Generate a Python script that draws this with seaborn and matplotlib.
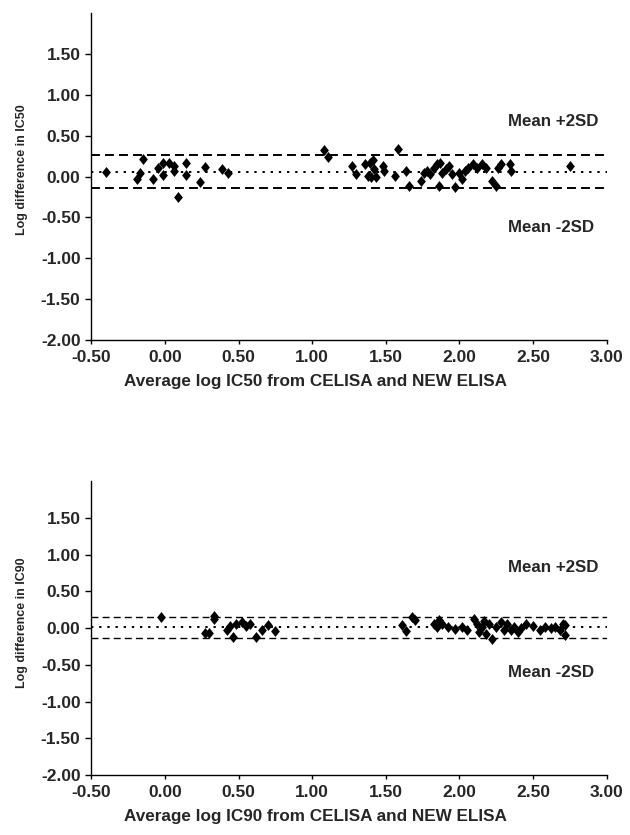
import matplotlib
matplotlib.use("Agg")
import matplotlib.pyplot as plt
from matplotlib.path import Path
import seaborn as sns
import pandas as pd

# Bland-Altman data: average log IC vs log difference (CELISA vs NEW ELISA)
ic50_avg = [-0.40, -0.19, -0.17, -0.15, -0.08, -0.05, -0.01, -0.01, 0.03, 0.06,
            0.06, 0.09, 0.14, 0.14, 0.24, 0.27, 0.39, 0.43,
            1.08, 1.11, 1.27, 1.30, 1.36, 1.39, 1.41, 1.38, 1.40, 1.43, 1.42,
            1.48, 1.49, 1.56, 1.58, 1.64, 1.66, 1.74, 1.76, 1.78, 1.80, 1.83,
            1.85, 1.86, 1.87, 1.88, 1.91, 1.93, 1.95, 1.97, 2.00, 2.02, 2.04,
            2.06, 2.09, 2.12, 2.15, 2.18, 2.22, 2.25, 2.26, 2.28, 2.34, 2.35,
            2.75]
ic50_diff = [0.06, -0.03, 0.04, 0.21, -0.03, 0.11, 0.17, 0.02, 0.17, 0.13,
             0.07, -0.25, 0.02, 0.17, -0.07, 0.12, 0.09, 0.04,
             0.33, 0.24, 0.13, 0.03, 0.15, 0.17, 0.20, 0.01, -0.01, -0.01, 0.09,
             0.13, 0.07, 0.01, 0.34, 0.07, -0.11, -0.05, 0.05, 0.07, 0.03, 0.11,
             0.15, -0.11, 0.17, 0.05, 0.09, 0.13, 0.03, -0.13, 0.05, -0.03, 0.07,
             0.11, 0.15, 0.11, 0.15, 0.11, -0.05, -0.11, 0.11, 0.15, 0.15, 0.07,
             0.13]

ic90_avg = [-0.03, 0.27, 0.30, 0.33, 0.33, 0.42, 0.44, 0.46, 0.48, 0.52,
            0.55, 0.58, 0.62, 0.66, 0.70, 0.75,
            1.61, 1.64, 1.68, 1.70, 1.83, 1.85, 1.86, 1.88, 1.92, 1.97, 2.02,
            2.05, 2.10, 2.12, 2.13, 2.15, 2.17, 2.18, 2.20, 2.22, 2.25, 2.28,
            2.30, 2.32, 2.35, 2.37, 2.40, 2.42, 2.45, 2.50, 2.55, 2.58, 2.62,
            2.65, 2.68, 2.70, 2.72, 2.72]
ic90_diff = [0.15, -0.07, -0.07, 0.17, 0.12, -0.03, 0.03, -0.12, 0.06, 0.09,
             0.03, 0.06, -0.12, -0.03, 0.04, -0.04,
             0.04, -0.04, 0.15, 0.11, 0.06, 0.02, 0.11, 0.06, 0.02, -0.01, 0.01,
             -0.02, 0.12, 0.05, -0.05, 0.02, 0.10, -0.08, 0.05, -0.15, 0.02, 0.08,
             -0.03, 0.05, -0.02, 0.02, -0.05, 0.00, 0.05, 0.03, -0.02, 0.02, 0.00,
             0.02, -0.03, 0.06, -0.10, 0.04]

# Mean and limits of agreement (mean +/- 2SD)
ic50_lines = {"mean": 0.06, "upper": 0.26, "lower": -0.14}
ic90_lines = {"mean": 0.01, "upper": 0.15, "lower": -0.13}

x_ticks = [-0.5, 0.0, 0.5, 1.0, 1.5, 2.0, 2.5, 3.0]
y_ticks = [-2.0, -1.5, -1.0, -0.5, 0.0, 0.5, 1.0, 1.5]

panels = [
    ("IC50", ic50_avg, ic50_diff, ic50_lines, 0.67, -0.62),
    ("IC90", ic90_avg, ic90_diff, ic90_lines, 0.82, -0.60),
]

# slightly tall diamond marker
diamond = Path([(0, 1), (0.8, 0), (0, -1), (-0.8, 0), (0, 1)],
               [Path.MOVETO, Path.LINETO, Path.LINETO, Path.LINETO, Path.CLOSEPOLY])

sns.set_theme(style="ticks")
plt.rcParams["font.family"] = ["Liberation Sans", "DejaVu Sans"]

fig = plt.figure(figsize=(6.3, 8.35), dpi=100)
ax_top = fig.add_axes([0.145, 0.593, 0.818, 0.391])
ax_bot = fig.add_axes([0.145, 0.072, 0.818, 0.3515])

TICK_FS = 12.5
for ax, (name, xs, ys, lines, ytxt_hi, ytxt_lo) in zip([ax_top, ax_bot], panels):
    df = pd.DataFrame({"avg": xs, "diff": ys})
    if name == "IC50":
        lw_dash, dash = 1.4, (4.6, 2.6)
    else:
        lw_dash, dash = 1.0, (5.0, 3.0)
    ax.axhline(lines["upper"], color="black", lw=lw_dash, dashes=dash, zorder=1)
    ax.axhline(lines["lower"], color="black", lw=lw_dash, dashes=dash, zorder=1)
    ax.axhline(lines["mean"], color="black", lw=1.4, dashes=(1.2, 3), zorder=1)
    sns.scatterplot(data=df, x="avg", y="diff", ax=ax, marker=diamond, s=62,
                    color="black", edgecolor="black", linewidth=0, zorder=3)
    ax.set_xlim(-0.5, 3.0)
    ax.set_ylim(-2.0, 2.0)
    ax.set_xticks(x_ticks)
    ax.set_yticks(y_ticks)
    ax.set_xticklabels([f"{v:.2f}" for v in x_ticks], fontsize=TICK_FS, fontweight="bold")
    ax.set_yticklabels([f"{v:.2f}" for v in y_ticks], fontsize=TICK_FS, fontweight="bold")
    ax.set_xlabel(f"Average log {name} from CELISA and NEW ELISA",
                  fontsize=12.3, fontweight="bold", va="top")
    ax.set_ylabel(f"Log difference in {name}", fontsize=9.0, fontweight="bold")
    h_px = ax.get_position().height * fig.get_figheight() * fig.dpi
    ax.xaxis.set_label_coords(0.435, -34.0 / h_px)
    ax.yaxis.set_label_coords(-0.122, 0.52)
    ax.tick_params(axis="y", direction="out", length=4.3, width=1, color="black", pad=3.5)
    ax.tick_params(axis="x", direction="out", length=3.0, width=1, color="black", pad=4.5)
    for side in ["top", "right"]:
        ax.spines[side].set_visible(False)
    for side in ["left", "bottom"]:
        ax.spines[side].set_color("black")
        ax.spines[side].set_linewidth(1)
    ax.text(2.33, ytxt_hi, "Mean +2SD", fontsize=12.2, fontweight="bold",
            ha="left", va="center")
    ax.text(2.33, ytxt_lo, "Mean -2SD", fontsize=12.2, fontweight="bold",
            ha="left", va="center")

fig.savefig("out.png", dpi=100, facecolor="white")
